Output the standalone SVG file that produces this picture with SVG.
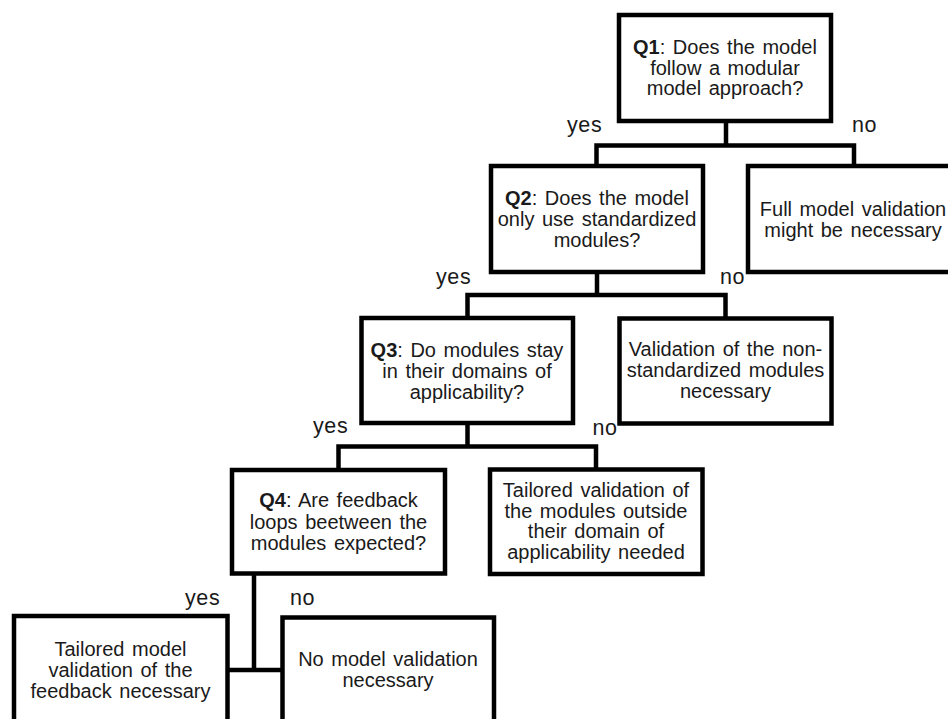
<svg xmlns="http://www.w3.org/2000/svg" width="948" height="719" viewBox="0 0 948 719">
  <style>
    .box { fill: #ffffff; stroke: #000000; stroke-width: 4.5; }
    .wire { fill: none; stroke: #000000; stroke-width: 4.5; stroke-linejoin: miter; stroke-linecap: square; }
    text { font-family: "Liberation Sans", Arial, sans-serif; font-size: 20px; fill: #1a1a1a; word-spacing: 2px; }
    .c { text-anchor: middle; }
    .b { font-weight: bold; }
    .lbl { font-size: 21.5px; letter-spacing: 0.6px; }
  </style>
  <rect width="948" height="719" fill="#ffffff"/>

  <!-- connectors -->
  <g id="connectors">
    <path class="wire" d="M726 121 V145.5 M596.5 166 V145.5 H854 V166"/>
    <path class="wire" d="M597 272 V295 M467.5 318 V295 H725.5 V318.5"/>
    <path class="wire" d="M467.5 423 V446.5 M338.5 470 V446.5 H596 V469.5"/>
    <path class="wire" d="M254 573.5 V670 M227.5 670 H282.5"/>
  </g>

  <!-- branch labels -->
  <g id="labels">
    <text class="lbl" x="567" y="132">yes</text>
    <text class="lbl" x="852" y="132">no</text>
    <text class="lbl" x="436" y="284">yes</text>
    <text class="lbl" x="720" y="284">no</text>
    <text class="lbl" x="313" y="433">yes</text>
    <text class="lbl" x="592.5" y="435">no</text>
    <text class="lbl" x="185" y="605">yes</text>
    <text class="lbl" x="290" y="605">no</text>
  </g>

  <g id="q1">
    <rect class="box" x="619" y="15" width="212" height="106"/>
    <text class="c" x="725" y="54"><tspan class="b">Q1</tspan>: Does the model</text>
    <text class="c" x="725" y="74.5">follow a modular</text>
    <text class="c" x="725" y="95">model  approach?</text>
  </g>

  <g id="q2">
    <rect class="box" x="491" y="166" width="212" height="106"/>
    <text class="c" x="597" y="205"><tspan class="b">Q2</tspan>: Does the model</text>
    <text class="c" x="597" y="226">only use standardized</text>
    <text class="c" x="597" y="247">modules?</text>
  </g>

  <g id="full-validation">
    <rect class="box" x="748" y="166" width="212" height="106"/>
    <text class="c" x="853" y="216">Full model validation</text>
    <text class="c" x="853" y="237">might be necessary</text>
  </g>

  <g id="q3">
    <rect class="box" x="361.5" y="318" width="211.5" height="105"/>
    <text class="c" x="467" y="357"><tspan class="b">Q3</tspan>: Do modules stay</text>
    <text class="c" x="467" y="378">in their domains of</text>
    <text class="c" x="467" y="398.5">applicability?</text>
  </g>

  <g id="nonstandard-validation">
    <rect class="box" x="619.5" y="318.5" width="212" height="105"/>
    <text class="c" x="725.5" y="356">Validation of the non-</text>
    <text class="c" x="725.5" y="377">standardized modules</text>
    <text class="c" x="725.5" y="397.5">necessary</text>
  </g>

  <g id="q4">
    <rect class="box" x="232" y="470" width="213" height="103.5"/>
    <text class="c" x="338.5" y="507"><tspan class="b">Q4</tspan>: Are feedback</text>
    <text class="c" x="338.5" y="528.5">loops beetween the</text>
    <text class="c" x="338.5" y="549.5">modules expected?</text>
  </g>

  <g id="outside-domain-validation">
    <rect class="box" x="490" y="469.5" width="212.5" height="104.5"/>
    <text class="c" x="596" y="497">Tailored validation of</text>
    <text class="c" x="596" y="517.5">the modules outside</text>
    <text class="c" x="596" y="538">their domain of</text>
    <text class="c" x="596" y="558.5">applicability needed</text>
  </g>

  <g id="feedback-validation">
    <rect class="box" x="14" y="616" width="213.5" height="110"/>
    <text class="c" x="120.5" y="655.5">Tailored model</text>
    <text class="c" x="120.5" y="676.5">validation of the</text>
    <text class="c" x="120.5" y="697.5">feedback necessary</text>
  </g>

  <g id="no-validation">
    <rect class="box" x="282.5" y="617.5" width="211.5" height="110"/>
    <text class="c" x="388" y="666">No model validation</text>
    <text class="c" x="388" y="687">necessary</text>
  </g>
</svg>
